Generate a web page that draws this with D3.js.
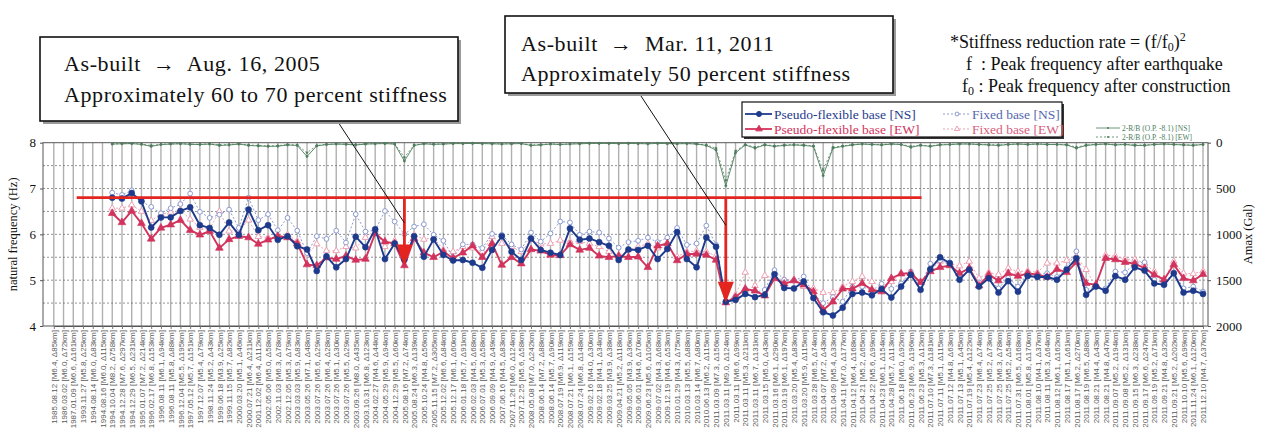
<!DOCTYPE html>
<html>
<head>
<meta charset="utf-8">
<script src="https://cdn.jsdelivr.net/npm/d3@7"></script>
<style>
  body { margin: 0; background: #fff; }
  svg { display: block; }
</style>
</head>
<body>
<svg id="chart" width="1263" height="430"></svg>
<script>
// Earthquake events (date [magnitude, epicentral distance])
const categories = [
  "1985.08.12 [M6.4, Δ85km]","1986.03.02 [M6.0, Δ72km]","1987.01.09 [M6.6, Δ161km]","1993.11.27 [M5.8, Δ25km]",
  "1994.08.14 [M6.0, Δ83km]","1994.08.16 [M6.0, Δ115km]","1994.10.04 [M8.2, Δ758km]","1994.12.28 [M7.6, Δ297km]",
  "1994.12.29 [M6.5, Δ231km]","1995.01.07 [M7.2, Δ214km]","1996.02.17 [M6.8, Δ153km]","1996.08.11 [M6.1, Δ94km]",
  "1996.08.11 [M5.8, Δ88km]","1996.12.04 [M5.5, Δ195km]","1997.05.12 [M5.7, Δ151km]","1997.12.07 [M5.4, Δ79km]",
  "1998.11.24 [M5.2, Δ43km]","1999.06.18 [M3.9, Δ25km]","1999.11.15 [M5.7, Δ82km]","2000.03.20 [M5.1, Δ46km]",
  "2000.07.21 [M6.4, Δ211km]","2001.12.02 [M6.4, Δ112km]","2002.05.06 [M5.0, Δ58km]","2002.11.03 [M6.3, Δ78km]",
  "2002.12.05 [M5.3, Δ79km]","2003.03.03 [M5.9, Δ83km]","2003.05.26 [M7.1, Δ48km]","2003.07.26 [M5.6, Δ29km]",
  "2003.07.26 [M6.4, Δ28km]","2003.07.26 [M5.1, Δ30km]","2003.07.26 [M5.5, Δ29km]","2003.09.26 [M8.0, Δ435km]",
  "2003.10.31 [M6.8, Δ123km]","2004.02.27 [M4.6, Δ44km]","2004.05.29 [M5.9, Δ94km]","2004.12.29 [M5.5, Δ60km]",
  "2005.08.16 [M7.2, Δ74km]","2005.08.24 [M6.3, Δ139km]","2005.10.24 [M4.8, Δ56km]","2005.11.15 [M7.2, Δ305km]",
  "2005.12.02 [M6.6, Δ84km]","2005.12.17 [M6.1, Δ60km]","2006.01.18 [M5.7, Δ91km]","2006.02.03 [M4.5, Δ68km]",
  "2006.07.01 [M5.3, Δ58km]","2006.09.09 [M4.9, Δ49km]","2007.06.16 [M4.5, Δ83km]","2007.11.26 [M6.0, Δ124km]",
  "2007.12.25 [M5.6, Δ58km]","2008.05.08 [M7.0, Δ242km]","2008.06.14 [M7.2, Δ88km]","2008.06.14 [M5.7, Δ90km]",
  "2008.07.19 [M6.9, Δ119km]","2008.07.21 [M6.1, Δ159km]","2008.07.24 [M6.8, Δ148km]","2009.02.16 [M4.0, Δ30km]",
  "2009.02.18 [M4.1, Δ34km]","2009.03.25 [M3.9, Δ38km]","2009.04.21 [M5.2, Δ118km]","2009.05.05 [M3.9, Δ36km]",
  "2009.06.01 [M4.6, Δ70km]","2009.06.23 [M5.6, Δ105km]","2009.07.02 [M4.3, Δ68km]","2009.12.19 [M4.6, Δ53km]",
  "2010.01.29 [M4.3, Δ75km]","2010.03.13 [M5.5, Δ88km]","2010.03.14 [M6.7, Δ80km]","2010.06.13 [M6.2, Δ115km]",
  "2011.03.09 [M7.3, Δ156km]","2011.03.11 [M9.0, Δ124km]","2011.03.11 [M6.6, Δ99km]","2011.03.11 [M5.3, Δ211km]",
  "2011.03.11 [M6.7, Δ131km]","2011.03.15 [M5.0, Δ43km]","2011.03.16 [M6.1, Δ290km]","2011.03.19 [M6.1, Δ197km]",
  "2011.03.20 [M5.4, Δ83km]","2011.03.20 [M5.9, Δ115km]","2011.03.28 [M6.5, Δ74km]","2011.04.07 [M7.2, Δ43km]",
  "2011.04.09 [M5.4, Δ33km]","2011.04.11 [M7.0, Δ177km]","2011.04.12 [M6.4, Δ168km]","2011.04.21 [M5.2, Δ65km]",
  "2011.04.22 [M5.6, Δ99km]","2011.04.23 [M6.1, Δ154km]","2011.04.28 [M5.7, Δ113km]","2011.06.18 [M6.0, Δ92km]",
  "2011.06.23 [M6.9, Δ196km]","2011.06.23 [M5.3, Δ12km]","2011.07.10 [M7.3, Δ181km]","2011.07.11 [M5.1, Δ115km]",
  "2011.07.12 [M4.8, Δ63km]","2011.07.13 [M5.1, Δ45km]","2011.07.19 [M5.4, Δ122km]","2011.07.23 [M6.4, Δ74km]",
  "2011.07.25 [M5.2, Δ73km]","2011.07.25 [M6.3, Δ78km]","2011.07.25 [M5.2, Δ54km]","2011.07.31 [M6.5, Δ168km]",
  "2011.08.01 [M5.8, Δ170km]","2011.08.10 [M4.1, Δ37km]","2011.08.11 [M5.3, Δ64km]","2011.08.12 [M6.1, Δ162km]",
  "2011.08.17 [M5.1, Δ61km]","2011.08.17 [M6.2, Δ270km]","2011.08.19 [M6.5, Δ88km]","2011.08.21 [M4.4, Δ43km]",
  "2011.08.21 [M4.8, Δ47km]","2011.09.07 [M5.2, Δ194km]","2011.09.08 [M5.2, Δ131km]","2011.09.15 [M6.3, Δ238km]",
  "2011.09.17 [M6.6, Δ247km]","2011.09.19 [M5.2, Δ71km]","2011.09.21 [M4.8, Δ32km]","2011.09.21 [M5.2, Δ202km]",
  "2011.10.10 [M5.6, Δ99km]","2011.11.24 [M6.1, Δ120km]","2011.12.10 [M4.7, Δ37km]"
];

// Natural frequency (Hz); no records before the 1994.10.04 event
const pseudoFlexNS = [null,null,null,null,null,null,
  6.80,6.78,6.90,6.72,6.15,6.37,6.37,6.51,6.59,6.20,6.14,5.99,6.26,5.99,6.54,6.09,6.20,5.88,5.96,5.74,5.67,5.20,5.52,5.28,
  5.46,5.95,5.72,6.11,5.46,5.80,5.45,5.96,5.51,5.89,5.55,5.43,5.44,5.38,5.27,5.66,5.96,5.62,5.44,5.91,5.66,5.60,5.55,6.13,
  5.88,5.91,5.83,5.75,5.44,5.67,5.66,5.75,5.46,5.68,6.05,5.46,5.28,5.93,5.73,4.53,4.57,4.70,4.63,4.68,5.13,4.83,4.82,4.97,
  4.61,4.30,4.23,4.40,4.70,4.73,4.67,4.81,4.62,4.86,5.12,4.79,5.24,5.50,5.37,5.01,5.23,4.86,5.04,4.73,4.98,4.75,5.09,5.07,
  5.07,5.01,5.23,5.48,4.68,4.86,4.77,5.09,5.01,5.28,5.21,4.93,4.90,5.15,4.73,4.77,4.70];
const pseudoFlexEW = [null,null,null,null,null,null,
  6.46,6.26,6.51,6.24,5.90,6.14,6.21,6.31,6.09,5.99,6.07,5.70,5.89,5.96,5.93,5.79,5.88,5.96,5.93,5.80,5.34,5.32,5.49,5.46,
  5.53,5.44,5.46,6.02,5.84,5.80,5.32,5.91,5.60,5.50,5.62,5.48,5.60,5.75,5.50,5.80,5.33,5.50,5.36,5.67,5.64,5.55,5.54,5.78,
  5.66,5.70,5.53,5.50,5.53,5.50,5.51,5.28,5.75,5.80,5.43,5.57,5.57,5.55,5.44,4.51,4.63,4.81,4.77,4.66,5.04,4.92,4.99,4.90,
  4.75,4.35,4.53,4.81,4.81,4.93,4.79,4.75,5.04,5.14,5.15,4.95,5.19,5.28,5.32,5.15,5.26,4.88,5.12,4.99,5.15,5.09,5.15,5.12,
  5.07,5.24,5.17,5.39,4.93,4.90,5.48,5.45,5.39,5.36,5.26,5.12,5.01,5.34,5.04,4.99,5.13];
const fixedNS = [null,null,null,null,null,null,
  6.91,6.86,6.96,6.72,6.60,6.46,6.57,6.66,6.89,6.49,6.36,6.43,6.54,6.14,6.80,6.31,6.44,6.09,6.36,6.08,5.59,5.96,5.90,6.08,
  5.82,6.44,6.06,6.09,6.51,6.28,6.00,6.17,6.22,5.99,5.86,5.50,5.78,5.78,5.70,6.01,5.99,5.78,5.67,6.04,5.84,6.02,6.28,6.26,
  5.99,6.06,6.04,5.91,5.71,5.83,5.86,5.93,5.83,5.93,6.14,5.77,5.80,6.19,5.77,4.53,4.64,4.80,4.73,4.79,5.22,5.01,4.99,5.08,
  4.70,4.50,4.63,4.53,4.86,4.86,4.77,4.92,4.81,4.93,5.19,4.88,5.36,5.43,5.39,5.12,5.26,4.95,5.04,4.82,5.05,4.86,5.15,5.12,
  5.15,5.07,5.26,5.63,4.79,4.86,4.82,5.19,5.17,5.37,5.39,5.01,4.93,5.17,4.82,4.86,4.75];
const fixedEW = [null,null,null,null,null,null,
  6.57,6.57,6.64,6.50,6.30,6.44,6.48,6.53,6.33,6.15,6.12,6.50,6.07,6.08,6.31,5.95,5.93,5.95,5.99,5.85,5.55,5.79,5.64,5.64,
  5.73,5.70,5.93,6.09,5.73,5.86,5.70,5.99,5.89,5.93,5.66,5.62,5.73,5.70,5.62,5.95,5.80,5.73,5.62,5.88,5.79,5.80,5.87,5.84,
  5.84,5.80,5.73,5.62,5.53,5.66,5.73,5.80,5.70,5.73,5.51,5.62,5.64,5.62,5.53,4.51,4.68,5.17,4.88,5.10,5.04,5.01,5.02,4.86,
  4.82,4.73,4.73,4.86,4.97,5.08,4.97,4.86,4.97,5.14,5.17,4.97,5.23,5.41,5.36,5.31,5.41,5.04,5.17,5.12,5.26,5.19,5.20,5.17,
  5.37,5.37,5.43,5.52,5.23,4.86,5.55,5.52,5.46,5.45,5.37,5.19,5.01,5.41,5.15,5.14,5.20];

// Peak acceleration at 2-R/B (O.P. -8.1), Gal
const amaxNS = [null,null,null,null,null,null,
  15,12,10,18,40,20,15,12,18,20,15,30,25,15,30,35,40,38,25,30,150,35,20,15,
  18,25,15,12,10,15,200,30,12,18,15,10,10,8,10,12,15,12,10,30,25,15,20,15,
  12,8,8,8,10,8,10,12,8,10,12,10,15,30,80,470,110,25,60,25,40,30,25,30,
  40,360,60,40,25,15,20,25,15,20,50,30,40,25,20,15,15,20,25,30,20,15,20,15,
  20,20,25,60,30,20,15,25,20,30,30,20,15,20,25,30,20];
const amaxEW = [null,null,null,null,null,null,
  12,10,8,15,30,18,12,10,15,18,12,25,20,12,25,30,35,32,20,25,110,30,18,12,
  15,20,12,10,8,12,160,25,10,15,12,8,8,6,8,10,12,10,8,25,20,12,18,12,
  10,6,6,6,8,6,8,10,6,8,10,8,12,25,60,410,90,20,50,20,35,25,20,25,
  35,300,50,35,20,12,18,20,12,18,40,25,35,20,18,12,12,18,20,25,18,12,18,12,
  18,18,20,50,25,18,12,20,18,25,25,18,12,18,20,25,18];

// Reference frequency line and the two drop arrows
const refLevel = 6.8;
const refSpan = [2.35, 89.1];
const drops = [
  { idx: 36, tip: 5.32 },
  { idx: 69, tip: 4.51 }
];

const yTicksLeft = [4, 5, 6, 7, 8];
const yTicksRight = [0, 500, 1000, 1500, 2000];

// ---------------------------------------------------------------
const svg = d3.select("#chart");
const plot = { left: 43, right: 1208, top: 142.7, bottom: 326 };

const x = d3.scaleLinear().domain([0, categories.length - 1]).range([53.8, 1203]);
const y = d3.scaleLinear().domain([4, 8]).range([plot.bottom, plot.top]);
const yR = d3.scaleLinear().domain([0, 2000]).range([plot.top, plot.bottom]);

const serif = "'Liberation Serif','Times New Roman',serif";
const C = {
  pfNS: "#1e3a8c", pfEW: "#d2335c",
  fxNS: "#8d9bd0", fxEW: "#eba3b4",
  green: "#4d7d5c", red: "#e3241f"
};

// grid
const g = svg.append("g");
g.selectAll("line.vg").data(d3.range(categories.length)).join("line")
  .attr("x1", d => x(d)).attr("x2", d => x(d))
  .attr("y1", plot.top).attr("y2", plot.bottom)
  .attr("stroke", "#b0b0b0").attr("stroke-width", 1.4);
g.selectAll("line.hg").data(d3.range(4.5, 8, 0.5)).join("line")
  .attr("x1", plot.left).attr("x2", plot.right)
  .attr("y1", d => y(d)).attr("y2", d => y(d))
  .attr("stroke", "#777").attr("stroke-width", 0.8).attr("stroke-dasharray", "2,2");

// frame
g.append("rect").attr("x", plot.left).attr("y", plot.top)
  .attr("width", plot.right - plot.left).attr("height", plot.bottom - plot.top)
  .attr("fill", "none").attr("stroke", "#555").attr("stroke-width", 1);

// x axis with rotated event labels
const xAxis = d3.axisBottom(x).tickValues(d3.range(categories.length))
  .tickFormat(i => categories[i]).tickSize(3).tickSizeOuter(0);
const xa = svg.append("g").attr("transform", `translate(0,${plot.bottom})`).call(xAxis);
xa.select(".domain").attr("stroke", "#555");
xa.selectAll(".tick line").attr("stroke", "#777");
xa.selectAll(".tick text")
  .attr("transform", "rotate(-90)")
  .attr("x", -4).attr("y", 0).attr("dy", "0.33em")
  .attr("text-anchor", "end")
  .attr("font-family", "'Liberation Sans', Arial, sans-serif")
  .attr("font-size", 8).attr("fill", "#5a5a5a");

// left axis
const yaL = svg.append("g").attr("transform", `translate(${plot.left},0)`)
  .call(d3.axisLeft(y).tickValues(yTicksLeft).tickFormat(d3.format("d")).tickSize(3));
yaL.select(".domain").remove();
yaL.selectAll(".tick line").attr("stroke", "#555");
yaL.selectAll(".tick text").attr("font-family", serif).attr("font-size", 13).attr("fill", "#111").attr("x", -7);

// right axis
const yaR = svg.append("g").attr("transform", `translate(${plot.right},0)`)
  .call(d3.axisRight(yR).tickValues(yTicksRight).tickFormat(d3.format("d")).tickSize(3));
yaR.select(".domain").remove();
yaR.selectAll(".tick line").attr("stroke", "#555");
yaR.selectAll(".tick text").attr("font-family", serif).attr("font-size", 13).attr("fill", "#111").attr("x", 8);

svg.append("text").attr("transform", `translate(17,${(plot.top + plot.bottom) / 2}) rotate(-90)`)
  .attr("text-anchor", "middle").attr("font-family", serif).attr("font-size", 12.5).attr("fill", "#111")
  .text("natural frequency (Hz)");
svg.append("text").attr("transform", `translate(1252,${(plot.top + plot.bottom) / 2}) rotate(-90)`)
  .attr("text-anchor", "middle").attr("font-family", serif).attr("font-size", 12.5).attr("fill", "#111")
  .text("Amax (Gal)");

// series helpers
const pts = arr => arr.map((v, i) => ({ i, v })).filter(d => d.v != null);
const lineF = d3.line().x(d => x(d.i)).y(d => y(d.v));
const lineA = d3.line().x(d => x(d.i)).y(d => yR(d.v));

function drawSeries(arr, color, width, dash, marker, filled, scaleLine, yFn) {
  const data = pts(arr);
  svg.append("path").datum(data).attr("d", scaleLine)
    .attr("fill", "none").attr("stroke", color).attr("stroke-width", width)
    .attr("stroke-dasharray", dash).attr("stroke-linejoin", "round");
  const sym = d3.symbol().type(marker.type).size(marker.size);
  svg.append("g").selectAll("path").data(data).join("path")
    .attr("transform", d => `translate(${x(d.i)},${yFn(d.v)})`)
    .attr("d", sym())
    .attr("fill", filled ? color : "#fff")
    .attr("stroke", color).attr("stroke-width", filled ? 0.6 : 1);
}

// Amax (right scale)
drawSeries(amaxEW, C.green, 0.8, "2,2", { type: d3.symbolCircle, size: 3 }, true, lineA, yR);
drawSeries(amaxNS, C.green, 0.9, null, { type: d3.symbolCircle, size: 4 }, true, lineA, yR);

// fixed base (dotted, open markers)
drawSeries(fixedEW, C.fxEW, 1, "2,2", { type: d3.symbolTriangle, size: 18 }, false, lineF, y);
drawSeries(fixedNS, C.fxNS, 1, "2,2", { type: d3.symbolCircle, size: 18 }, false, lineF, y);

// pseudo-flexible base (solid, filled markers)
drawSeries(pseudoFlexEW, C.pfEW, 1.9, null, { type: d3.symbolTriangle, size: 26 }, true, lineF, y);
drawSeries(pseudoFlexNS, C.pfNS, 1.9, null, { type: d3.symbolCircle, size: 28 }, true, lineF, y);

// reference stiffness line and drop arrows
svg.append("line")
  .attr("x1", x(refSpan[0])).attr("x2", x(refSpan[1]))
  .attr("y1", y(refLevel)).attr("y2", y(refLevel))
  .attr("stroke", C.red).attr("stroke-width", 2.8);
drops.forEach(d => {
  const cx = x(d.idx), tipY = y(d.tip), headH = 21, headW = 8;
  svg.append("line").attr("x1", cx).attr("x2", cx)
    .attr("y1", y(refLevel)).attr("y2", tipY - headH + 2)
    .attr("stroke", C.red).attr("stroke-width", 2.8);
  svg.append("path")
    .attr("d", `M${cx - headW},${tipY - headH} L${cx + headW},${tipY - headH} L${cx},${tipY} Z`)
    .attr("fill", C.red);
});

// annotation boxes with leader lines
function noteBox(bx, by, bw, bh, lines, tx, ty, lh) {
  svg.append("rect").attr("x", bx + 3).attr("y", by + 3).attr("width", bw).attr("height", bh)
    .attr("fill", "#9a9a9a");
  svg.append("rect").attr("x", bx).attr("y", by).attr("width", bw).attr("height", bh)
    .attr("fill", "#fff").attr("stroke", "#111").attr("stroke-width", 1.6);
  lines.forEach((t, k) => {
    svg.append("text").attr("x", tx).attr("y", ty + k * lh)
      .attr("font-family", serif).attr("font-size", 22).attr("letter-spacing", 0.6).attr("fill", "#111")
      .style("white-space", "pre").text(t);
  });
}
svg.append("line").attr("x1", 338).attr("y1", 122).attr("x2", x(36)).attr("y2", y(6.25))
  .attr("stroke", "#111").attr("stroke-width", 1);
svg.append("line").attr("x1", 639).attr("y1", 93).attr("x2", x(69)).attr("y2", y(6.2))
  .attr("stroke", "#111").attr("stroke-width", 1);
noteBox(40, 37, 418, 84, ["As-built  →  Aug. 16, 2005", "Approximately 60 to 70 percent stiffness"], 64, 71, 31);
noteBox(505, 16, 388, 77, ["As-built  →  Mar. 11, 2011", "Approximately 50 percent stiffness"], 521, 51, 30);

// stiffness note
const note = svg.append("g").attr("font-family", serif).attr("font-size", 18).attr("fill", "#111");
const n1 = note.append("text").attr("x", 950).attr("y", 48);
n1.append("tspan").text("*Stiffness reduction rate = (f/f");
n1.append("tspan").attr("font-size", 12).attr("dy", 3).text("0");
n1.append("tspan").attr("dy", -3).text(")");
n1.append("tspan").attr("font-size", 12).attr("dy", -7).text("2");
note.append("text").attr("x", 966).attr("y", 70).style("white-space", "pre").text("f  : Peak frequency after earthquake");
const n3 = note.append("text").attr("x", 962).attr("y", 92);
n3.append("tspan").text("f");
n3.append("tspan").attr("font-size", 12).attr("dy", 3).text("0");
n3.append("tspan").attr("dy", -3).text(" : Peak frequency after construction");

// legend
const lg = svg.append("g");
lg.append("rect").attr("x", 744).attr("y", 104).attr("width", 320).attr("height", 35).attr("fill", "#333");
lg.append("rect").attr("x", 742).attr("y", 102).attr("width", 320).attr("height", 35)
  .attr("fill", "#fff").attr("stroke", "#111").attr("stroke-width", 1.2);
const legendItems = [
  { label: "Pseudo-flexible base [NS]", color: C.pfNS, text: C.pfNS, tx: 745, ty: 114, dash: null, w: 1.8, type: d3.symbolCircle, size: 20, fill: true },
  { label: "Pseudo-flexible base [EW]", color: C.pfEW, text: C.pfEW, tx: 745, ty: 129, dash: null, w: 1.8, type: d3.symbolTriangle, size: 18, fill: true },
  { label: "Fixed base [NS]", color: C.fxNS, text: "#5566b0", tx: 943, ty: 114, dash: "2,2", w: 1, type: d3.symbolCircle, size: 12, fill: false },
  { label: "Fixed base [EW]", color: C.fxEW, text: "#d8607e", tx: 943, ty: 129, dash: "2,2", w: 1, type: d3.symbolTriangle, size: 12, fill: false }
];
legendItems.forEach(it => {
  lg.append("line").attr("x1", it.tx).attr("x2", it.tx + 27).attr("y1", it.ty).attr("y2", it.ty)
    .attr("stroke", it.color).attr("stroke-width", it.w).attr("stroke-dasharray", it.dash);
  lg.append("path").attr("transform", `translate(${it.tx + 14},${it.ty})`)
    .attr("d", d3.symbol().type(it.type).size(it.size)())
    .attr("fill", it.fill ? it.color : "#fff").attr("stroke", it.color);
  lg.append("text").attr("x", it.tx + 29).attr("y", it.ty + 4.5)
    .attr("font-family", serif).attr("font-size", 13.5).attr("fill", it.text).text(it.label);
});
const gLegend = [
  { label: "2-R/B (O.P. -8.1) [NS]", ty: 128, dash: null },
  { label: "2-R/B (O.P. -8.1) [EW]", ty: 137, dash: "2,2" }
];
gLegend.forEach(it => {
  lg.append("line").attr("x1", 1096).attr("x2", 1120).attr("y1", it.ty).attr("y2", it.ty)
    .attr("stroke", C.green).attr("stroke-width", 0.8).attr("stroke-dasharray", it.dash);
  lg.append("circle").attr("cx", 1108).attr("cy", it.ty).attr("r", 1).attr("fill", C.green);
  lg.append("text").attr("x", 1122).attr("y", it.ty + 2.5)
    .attr("font-family", serif).attr("font-size", 7.5).attr("fill", C.green).text(it.label);
});
</script>
</body>
</html>
